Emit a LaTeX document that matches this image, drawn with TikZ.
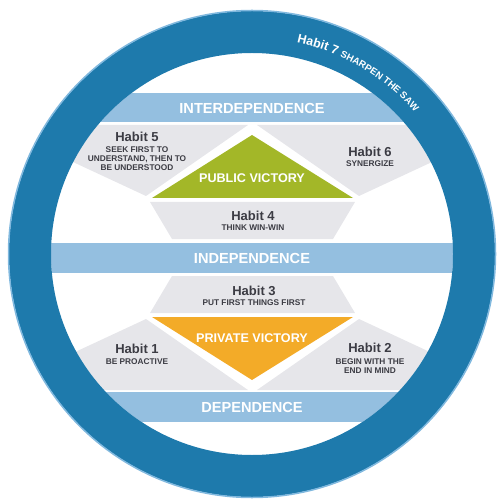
\documentclass[tikz,border=0pt]{standalone}
\usepackage{fontspec}
\setmainfont{Liberation Sans}
\usepackage{tikz}
\usetikzlibrary{decorations.text}

\definecolor{ringblue}{RGB}{30,122,172}
\definecolor{ringedge}{RGB}{128,184,222}
\definecolor{bandblue}{RGB}{148,191,224}
\definecolor{panelgray}{RGB}{230,230,234}
\definecolor{publicgreen}{RGB}{163,183,40}
\definecolor{privateorange}{RGB}{243,171,40}
\definecolor{habitgray}{RGB}{60,60,68}

\begin{document}
\begin{tikzpicture}[x=1pt,y=-1pt,
  band/.style = {fill = bandblue},
  panel/.style = {fill = panelgray},
  level/.style = {text = white, font = \bfseries\fontsize{14.6}{15}\selectfont, inner sep = 0pt},
  victory/.style = {text = white, font = \bfseries\fontsize{12.6}{13}\selectfont, inner sep = 0pt},
  habit/.style = {text = habitgray, font = \bfseries\fontsize{13}{13}\selectfont, inner sep = 0pt},
  motto/.style = {text = habitgray, font = \bfseries\fontsize{8.3}{9}\selectfont, align = center, inner sep = 0pt},]
\useasboundingbox (0,0) rectangle (496,502);
\coordinate (O) at (252,254);
\begin{scope}
\clip (O) circle [radius = 201];
\fill[band] (0,93) rectangle (505,122);
\fill[band] (0,243) rectangle (505,273);
\fill[band] (0,392) rectangle (505,422);
\fill[panel] (30,125) -- (248,125) -- (146,196) -- (30,142) -- cycle;
\fill[panel] (475,125) -- (257,125) -- (359,196) -- (475,142) -- cycle;
\fill[panel] (150,202) -- (355,202) -- (333,239) -- (172,239) -- cycle;
\fill[panel] (150,313) -- (355,313) -- (333,276) -- (172,276) -- cycle;
\fill[panel] (30,390) -- (248,390) -- (146,319) -- (30,373) -- cycle;
\fill[panel] (475,390) -- (257,390) -- (359,319) -- (475,373) -- cycle;
\end{scope}
\fill[publicgreen] (252,135) -- (353,198) -- (152,198) -- cycle;
\fill[privateorange] (252,380) -- (353,317) -- (152,317) -- cycle;
\fill[ringblue, even odd rule] (O) circle [radius = 243] (O) circle [radius = 201];
\draw[ringedge, line width = 1.5pt] (O) circle [radius = 243.5];
\node (inter) at (252,108)[level] {INTERDEPENDENCE};
\node (inde) at (252,258)[level] {INDEPENDENCE};
\node (depe) at (252,407)[level] {DEPENDENCE};
\node (pub) at (252,178)[victory] {PUBLIC VICTORY};
\node (priv) at (252,338)[victory] {PRIVATE VICTORY};
\node (h5) at (137,137)[habit] {Habit 5};
\node (m5) at (137,158.5)[motto] {SEEK FIRST TO\\UNDERSTAND, THEN TO\\BE UNDERSTOOD};
\node (h6) at (370,152)[habit] {Habit 6};
\node (m6) at (370,164)[motto] {SYNERGIZE};
\node (h4) at (253,216)[habit] {Habit 4};
\node (m4) at (253,228)[motto] {THINK WIN-WIN};
\node (h3) at (254,291)[habit] {Habit 3};
\node (m3) at (254,303)[motto] {PUT FIRST THINGS FIRST};
\node (h1) at (137,349)[habit] {Habit 1};
\node (m1) at (137,362)[motto] {BE PROACTIVE};
\node (h2) at (370,348)[habit] {Habit 2};
\node (m2) at (370,366.5)[motto] {BEGIN WITH THE\\END IN MIND};
\path[decorate, decoration = {text along path, text color = white, text align = left,
  text = {|\bfseries\fontsize{12.5}{13}\selectfont|Habit 7 |\bfseries\fontsize{9.6}{10}\selectfont|SHARPEN THE SAW}}]
  (O) ++(-78:216) arc [start angle = -78, end angle = -30, radius = 216];
\end{tikzpicture}
\end{document}
